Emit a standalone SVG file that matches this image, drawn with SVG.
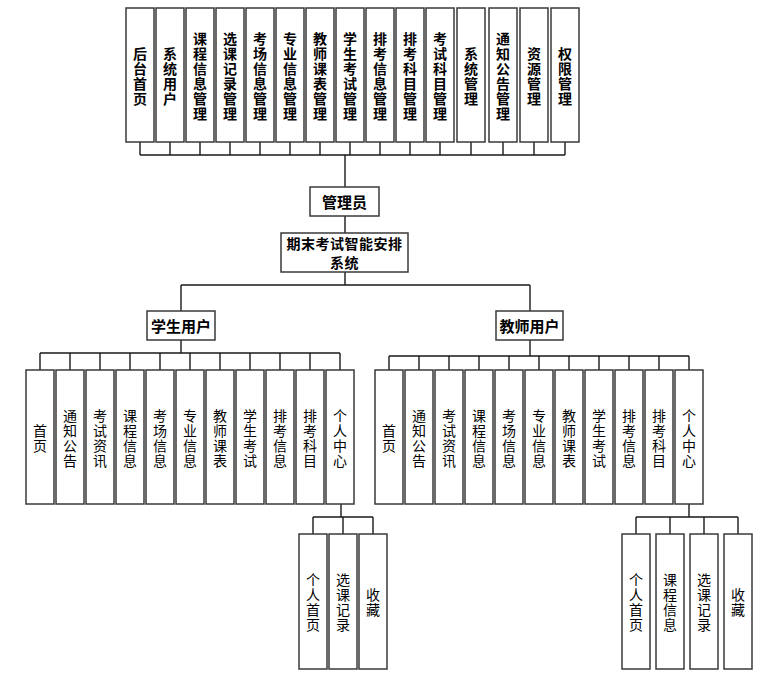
<svg xmlns="http://www.w3.org/2000/svg" width="769" height="680" viewBox="0 0 769 680">
<style>
.box{fill:#fff;stroke:#3a3a3a;stroke-width:1.5}
.ln{fill:none;stroke:#1a1a1a;stroke-width:1.4}
text{font-family:"Noto Sans CJK SC","Noto Sans",sans-serif;fill:#000;text-anchor:middle;dominant-baseline:central}
.t{font-size:14px;font-weight:bold}
.b{font-size:14px}
.h{font-size:15px;font-weight:bold}
.s{font-size:14px;font-weight:bold;letter-spacing:0.5px}
</style>
<rect width="769" height="680" fill="#fff"/>
<g id="connectors">
<path class="ln" d="M140 142V155M170 142V155M200 142V155M230 142V155M260 142V155M290 142V155M320 142V155M350 142V155M380 142V155M410 142V155M440 142V155M471 142V155M503 142V155M534 142V155M565 142V155M140 155H565M345 155V187M345 216V233M345 272V285M181 285H530M181 285V311M530 285V311"/>
<path class="ln" d="M181 340V353M40 353H340M40 353V370M70 353V370M100 353V370M130 353V370M160 353V370M190 353V370M220 353V370M250 353V370M280 353V370M310 353V370M340 353V370"/>
<path class="ln" d="M530 340V356M389 356H689M389 356V370M419 356V370M449 356V370M479 356V370M509 356V370M539 356V370M569 356V370M599 356V370M629 356V370M659 356V370M689 356V370"/>
<path class="ln" d="M341 504V517M313 517H373M313 517V534M343 517V534M373 517V534"/>
<path class="ln" d="M689 504V517M636 517H738M636 517V534M670 517V534M704 517V534M738 517V534"/>
</g>
<g id="admin-modules">
<g id="a1"><rect class="box" x="126" y="8" width="28" height="134"/><text class="t"><tspan x="140" y="52.5">后</tspan><tspan x="140" y="67.5">台</tspan><tspan x="140" y="82.5">首</tspan><tspan x="140" y="97.5">页</tspan></text></g>
<g id="a2"><rect class="box" x="156" y="8" width="28" height="134"/><text class="t"><tspan x="170" y="52.5">系</tspan><tspan x="170" y="67.5">统</tspan><tspan x="170" y="82.5">用</tspan><tspan x="170" y="97.5">户</tspan></text></g>
<g id="a3"><rect class="box" x="186" y="8" width="28" height="134"/><text class="t"><tspan x="200" y="37.5">课</tspan><tspan x="200" y="52.5">程</tspan><tspan x="200" y="67.5">信</tspan><tspan x="200" y="82.5">息</tspan><tspan x="200" y="97.5">管</tspan><tspan x="200" y="112.5">理</tspan></text></g>
<g id="a4"><rect class="box" x="216" y="8" width="28" height="134"/><text class="t"><tspan x="230" y="37.5">选</tspan><tspan x="230" y="52.5">课</tspan><tspan x="230" y="67.5">记</tspan><tspan x="230" y="82.5">录</tspan><tspan x="230" y="97.5">管</tspan><tspan x="230" y="112.5">理</tspan></text></g>
<g id="a5"><rect class="box" x="246" y="8" width="28" height="134"/><text class="t"><tspan x="260" y="37.5">考</tspan><tspan x="260" y="52.5">场</tspan><tspan x="260" y="67.5">信</tspan><tspan x="260" y="82.5">息</tspan><tspan x="260" y="97.5">管</tspan><tspan x="260" y="112.5">理</tspan></text></g>
<g id="a6"><rect class="box" x="276" y="8" width="28" height="134"/><text class="t"><tspan x="290" y="37.5">专</tspan><tspan x="290" y="52.5">业</tspan><tspan x="290" y="67.5">信</tspan><tspan x="290" y="82.5">息</tspan><tspan x="290" y="97.5">管</tspan><tspan x="290" y="112.5">理</tspan></text></g>
<g id="a7"><rect class="box" x="306" y="8" width="28" height="134"/><text class="t"><tspan x="320" y="37.5">教</tspan><tspan x="320" y="52.5">师</tspan><tspan x="320" y="67.5">课</tspan><tspan x="320" y="82.5">表</tspan><tspan x="320" y="97.5">管</tspan><tspan x="320" y="112.5">理</tspan></text></g>
<g id="a8"><rect class="box" x="336" y="8" width="28" height="134"/><text class="t"><tspan x="350" y="37.5">学</tspan><tspan x="350" y="52.5">生</tspan><tspan x="350" y="67.5">考</tspan><tspan x="350" y="82.5">试</tspan><tspan x="350" y="97.5">管</tspan><tspan x="350" y="112.5">理</tspan></text></g>
<g id="a9"><rect class="box" x="366" y="8" width="28" height="134"/><text class="t"><tspan x="380" y="37.5">排</tspan><tspan x="380" y="52.5">考</tspan><tspan x="380" y="67.5">信</tspan><tspan x="380" y="82.5">息</tspan><tspan x="380" y="97.5">管</tspan><tspan x="380" y="112.5">理</tspan></text></g>
<g id="a10"><rect class="box" x="396" y="8" width="28" height="134"/><text class="t"><tspan x="410" y="37.5">排</tspan><tspan x="410" y="52.5">考</tspan><tspan x="410" y="67.5">科</tspan><tspan x="410" y="82.5">目</tspan><tspan x="410" y="97.5">管</tspan><tspan x="410" y="112.5">理</tspan></text></g>
<g id="a11"><rect class="box" x="426" y="8" width="28" height="134"/><text class="t"><tspan x="440" y="37.5">考</tspan><tspan x="440" y="52.5">试</tspan><tspan x="440" y="67.5">科</tspan><tspan x="440" y="82.5">目</tspan><tspan x="440" y="97.5">管</tspan><tspan x="440" y="112.5">理</tspan></text></g>
<g id="a12"><rect class="box" x="457" y="8" width="28" height="134"/><text class="t"><tspan x="471" y="52.5">系</tspan><tspan x="471" y="67.5">统</tspan><tspan x="471" y="82.5">管</tspan><tspan x="471" y="97.5">理</tspan></text></g>
<g id="a13"><rect class="box" x="489" y="8" width="28" height="134"/><text class="t"><tspan x="503" y="37.5">通</tspan><tspan x="503" y="52.5">知</tspan><tspan x="503" y="67.5">公</tspan><tspan x="503" y="82.5">告</tspan><tspan x="503" y="97.5">管</tspan><tspan x="503" y="112.5">理</tspan></text></g>
<g id="a14"><rect class="box" x="520" y="8" width="28" height="134"/><text class="t"><tspan x="534" y="52.5">资</tspan><tspan x="534" y="67.5">源</tspan><tspan x="534" y="82.5">管</tspan><tspan x="534" y="97.5">理</tspan></text></g>
<g id="a15"><rect class="box" x="551" y="8" width="28" height="134"/><text class="t"><tspan x="565" y="52.5">权</tspan><tspan x="565" y="67.5">限</tspan><tspan x="565" y="82.5">管</tspan><tspan x="565" y="97.5">理</tspan></text></g>
</g>
<g id="admin"><rect class="box" x="310" y="187" width="69" height="29"/><text class="h" x="344.5" y="201.5">管理员</text></g>
<g id="system"><rect class="box" x="281" y="233" width="127" height="39"/><text class="s" x="344.5" y="242.5">期末考试智能安排</text><text class="s" x="344.5" y="262">系统</text></g>
<g id="student"><rect class="box" x="147" y="311" width="68" height="29"/><text class="h" x="181" y="325.5">学生用户</text></g>
<g id="teacher"><rect class="box" x="496" y="311" width="67" height="29"/><text class="h" x="529.5" y="325.5">教师用户</text></g>
<g id="student-modules">
<g id="s1"><rect class="box" x="26" y="370" width="28" height="134"/><text class="b"><tspan x="40" y="429.5">首</tspan><tspan x="40" y="444.5">页</tspan></text></g>
<g id="s2"><rect class="box" x="56" y="370" width="28" height="134"/><text class="b"><tspan x="70" y="414.5">通</tspan><tspan x="70" y="429.5">知</tspan><tspan x="70" y="444.5">公</tspan><tspan x="70" y="459.5">告</tspan></text></g>
<g id="s3"><rect class="box" x="86" y="370" width="28" height="134"/><text class="b"><tspan x="100" y="414.5">考</tspan><tspan x="100" y="429.5">试</tspan><tspan x="100" y="444.5">资</tspan><tspan x="100" y="459.5">讯</tspan></text></g>
<g id="s4"><rect class="box" x="116" y="370" width="28" height="134"/><text class="b"><tspan x="130" y="414.5">课</tspan><tspan x="130" y="429.5">程</tspan><tspan x="130" y="444.5">信</tspan><tspan x="130" y="459.5">息</tspan></text></g>
<g id="s5"><rect class="box" x="146" y="370" width="28" height="134"/><text class="b"><tspan x="160" y="414.5">考</tspan><tspan x="160" y="429.5">场</tspan><tspan x="160" y="444.5">信</tspan><tspan x="160" y="459.5">息</tspan></text></g>
<g id="s6"><rect class="box" x="176" y="370" width="28" height="134"/><text class="b"><tspan x="190" y="414.5">专</tspan><tspan x="190" y="429.5">业</tspan><tspan x="190" y="444.5">信</tspan><tspan x="190" y="459.5">息</tspan></text></g>
<g id="s7"><rect class="box" x="206" y="370" width="28" height="134"/><text class="b"><tspan x="220" y="414.5">教</tspan><tspan x="220" y="429.5">师</tspan><tspan x="220" y="444.5">课</tspan><tspan x="220" y="459.5">表</tspan></text></g>
<g id="s8"><rect class="box" x="236" y="370" width="28" height="134"/><text class="b"><tspan x="250" y="414.5">学</tspan><tspan x="250" y="429.5">生</tspan><tspan x="250" y="444.5">考</tspan><tspan x="250" y="459.5">试</tspan></text></g>
<g id="s9"><rect class="box" x="266" y="370" width="28" height="134"/><text class="b"><tspan x="280" y="414.5">排</tspan><tspan x="280" y="429.5">考</tspan><tspan x="280" y="444.5">信</tspan><tspan x="280" y="459.5">息</tspan></text></g>
<g id="s10"><rect class="box" x="296" y="370" width="28" height="134"/><text class="b"><tspan x="310" y="414.5">排</tspan><tspan x="310" y="429.5">考</tspan><tspan x="310" y="444.5">科</tspan><tspan x="310" y="459.5">目</tspan></text></g>
<g id="s11"><rect class="box" x="326" y="370" width="28" height="134"/><text class="b"><tspan x="340" y="414.5">个</tspan><tspan x="340" y="429.5">人</tspan><tspan x="340" y="444.5">中</tspan><tspan x="340" y="459.5">心</tspan></text></g>
</g>
<g id="teacher-modules">
<g id="t1"><rect class="box" x="375" y="370" width="28" height="134"/><text class="b"><tspan x="389" y="429.5">首</tspan><tspan x="389" y="444.5">页</tspan></text></g>
<g id="t2"><rect class="box" x="405" y="370" width="28" height="134"/><text class="b"><tspan x="419" y="414.5">通</tspan><tspan x="419" y="429.5">知</tspan><tspan x="419" y="444.5">公</tspan><tspan x="419" y="459.5">告</tspan></text></g>
<g id="t3"><rect class="box" x="435" y="370" width="28" height="134"/><text class="b"><tspan x="449" y="414.5">考</tspan><tspan x="449" y="429.5">试</tspan><tspan x="449" y="444.5">资</tspan><tspan x="449" y="459.5">讯</tspan></text></g>
<g id="t4"><rect class="box" x="465" y="370" width="28" height="134"/><text class="b"><tspan x="479" y="414.5">课</tspan><tspan x="479" y="429.5">程</tspan><tspan x="479" y="444.5">信</tspan><tspan x="479" y="459.5">息</tspan></text></g>
<g id="t5"><rect class="box" x="495" y="370" width="28" height="134"/><text class="b"><tspan x="509" y="414.5">考</tspan><tspan x="509" y="429.5">场</tspan><tspan x="509" y="444.5">信</tspan><tspan x="509" y="459.5">息</tspan></text></g>
<g id="t6"><rect class="box" x="525" y="370" width="28" height="134"/><text class="b"><tspan x="539" y="414.5">专</tspan><tspan x="539" y="429.5">业</tspan><tspan x="539" y="444.5">信</tspan><tspan x="539" y="459.5">息</tspan></text></g>
<g id="t7"><rect class="box" x="555" y="370" width="28" height="134"/><text class="b"><tspan x="569" y="414.5">教</tspan><tspan x="569" y="429.5">师</tspan><tspan x="569" y="444.5">课</tspan><tspan x="569" y="459.5">表</tspan></text></g>
<g id="t8"><rect class="box" x="585" y="370" width="28" height="134"/><text class="b"><tspan x="599" y="414.5">学</tspan><tspan x="599" y="429.5">生</tspan><tspan x="599" y="444.5">考</tspan><tspan x="599" y="459.5">试</tspan></text></g>
<g id="t9"><rect class="box" x="615" y="370" width="28" height="134"/><text class="b"><tspan x="629" y="414.5">排</tspan><tspan x="629" y="429.5">考</tspan><tspan x="629" y="444.5">信</tspan><tspan x="629" y="459.5">息</tspan></text></g>
<g id="t10"><rect class="box" x="645" y="370" width="28" height="134"/><text class="b"><tspan x="659" y="414.5">排</tspan><tspan x="659" y="429.5">考</tspan><tspan x="659" y="444.5">科</tspan><tspan x="659" y="459.5">目</tspan></text></g>
<g id="t11"><rect class="box" x="675" y="370" width="28" height="134"/><text class="b"><tspan x="689" y="414.5">个</tspan><tspan x="689" y="429.5">人</tspan><tspan x="689" y="444.5">中</tspan><tspan x="689" y="459.5">心</tspan></text></g>
</g>
<g id="student-center">
<g id="sc1"><rect class="box" x="299" y="534" width="28" height="135"/><text class="b"><tspan x="313" y="579">个</tspan><tspan x="313" y="594">人</tspan><tspan x="313" y="609">首</tspan><tspan x="313" y="624">页</tspan></text></g>
<g id="sc2"><rect class="box" x="329" y="534" width="28" height="135"/><text class="b"><tspan x="343" y="579">选</tspan><tspan x="343" y="594">课</tspan><tspan x="343" y="609">记</tspan><tspan x="343" y="624">录</tspan></text></g>
<g id="sc3"><rect class="box" x="359" y="534" width="28" height="135"/><text class="b"><tspan x="373" y="594">收</tspan><tspan x="373" y="609">藏</tspan></text></g>
</g>
<g id="teacher-center">
<g id="tc1"><rect class="box" x="622" y="534" width="28" height="135"/><text class="b"><tspan x="636" y="579">个</tspan><tspan x="636" y="594">人</tspan><tspan x="636" y="609">首</tspan><tspan x="636" y="624">页</tspan></text></g>
<g id="tc2"><rect class="box" x="656" y="534" width="28" height="135"/><text class="b"><tspan x="670" y="579">课</tspan><tspan x="670" y="594">程</tspan><tspan x="670" y="609">信</tspan><tspan x="670" y="624">息</tspan></text></g>
<g id="tc3"><rect class="box" x="690" y="534" width="28" height="135"/><text class="b"><tspan x="704" y="579">选</tspan><tspan x="704" y="594">课</tspan><tspan x="704" y="609">记</tspan><tspan x="704" y="624">录</tspan></text></g>
<g id="tc4"><rect class="box" x="724" y="534" width="28" height="135"/><text class="b"><tspan x="738" y="594">收</tspan><tspan x="738" y="609">藏</tspan></text></g>
</g>
</svg>
